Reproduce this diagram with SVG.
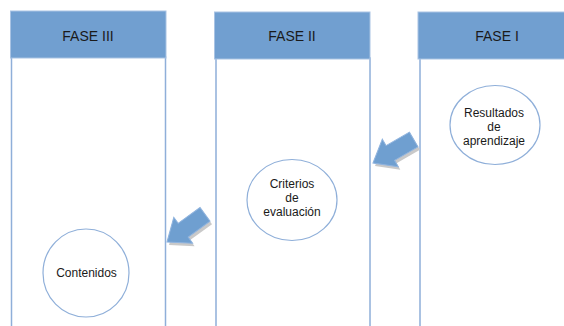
<svg xmlns="http://www.w3.org/2000/svg" width="564" height="326" viewBox="0 0 564 326">
<style>
.body{fill:#ffffff;stroke:#8fafd9;stroke-width:1.5}
.head{fill:#719fd0;stroke:#a9c3e3;stroke-width:1}
.htxt{font-family:"Liberation Sans",Arial,sans-serif;font-size:14px;fill:#1a1a1a;text-anchor:middle}
.node{fill:#ffffff;stroke:#8fafd9;stroke-width:1.2}
.ntxt{font-family:"Liberation Sans",Arial,sans-serif;font-size:12px;fill:#1a1a1a;text-anchor:middle}
.arrow{fill:#6f9fd0;stroke:#8fb3de;stroke-width:1}
.shadow{fill:#c9c9c9}
</style>
<defs>
<polygon id="blk" points="0,0 20,-16 20,-8.5 47,-8.5 47,8.5 20,8.5 20,16"/>
</defs>
<rect width="564" height="326" fill="#ffffff"/>
<g id="fase3">
<rect class="body" x="11.5" y="57" width="154" height="280"/>
<rect class="head" x="10.5" y="11" width="155.5" height="47"/>
<text class="htxt" x="88" y="41">FASE III</text>
</g>
<g id="fase2">
<rect class="body" x="216" y="58" width="154" height="280"/>
<rect class="head" x="214.5" y="12" width="155.5" height="47"/>
<text class="htxt" x="292" y="41">FASE II</text>
</g>
<g id="fase1">
<rect class="body" x="420" y="58" width="154" height="280"/>
<rect class="head" x="418" y="12" width="156" height="47"/>
<text class="htxt" x="497" y="41">FASE I</text>
</g>
<g id="resultados">
<ellipse class="node" cx="495" cy="125" rx="45" ry="39.5"/>
<text class="ntxt" x="494" y="117">Resultados</text>
<text class="ntxt" x="494" y="131">de</text>
<text class="ntxt" x="494" y="145">aprendizaje</text>
</g>
<g id="criterios">
<ellipse class="node" cx="292" cy="200" rx="45" ry="40.5"/>
<text class="ntxt" x="292" y="188">Criterios</text>
<text class="ntxt" x="292" y="202">de</text>
<text class="ntxt" x="292" y="216">evaluación</text>
</g>
<g id="contenidos">
<ellipse class="node" cx="86" cy="273" rx="43" ry="44"/>
<text class="ntxt" x="86.5" y="277">Contenidos</text>
</g>
<g id="connectors">
<use href="#blk" class="shadow" transform="translate(375,166) rotate(-30)"/>
<use href="#blk" class="arrow" transform="translate(373,163) rotate(-30)"/>
<use href="#blk" class="shadow" transform="translate(169,245) rotate(-36)"/>
<use href="#blk" class="arrow" transform="translate(167,242) rotate(-36)"/>
</g>
</svg>
